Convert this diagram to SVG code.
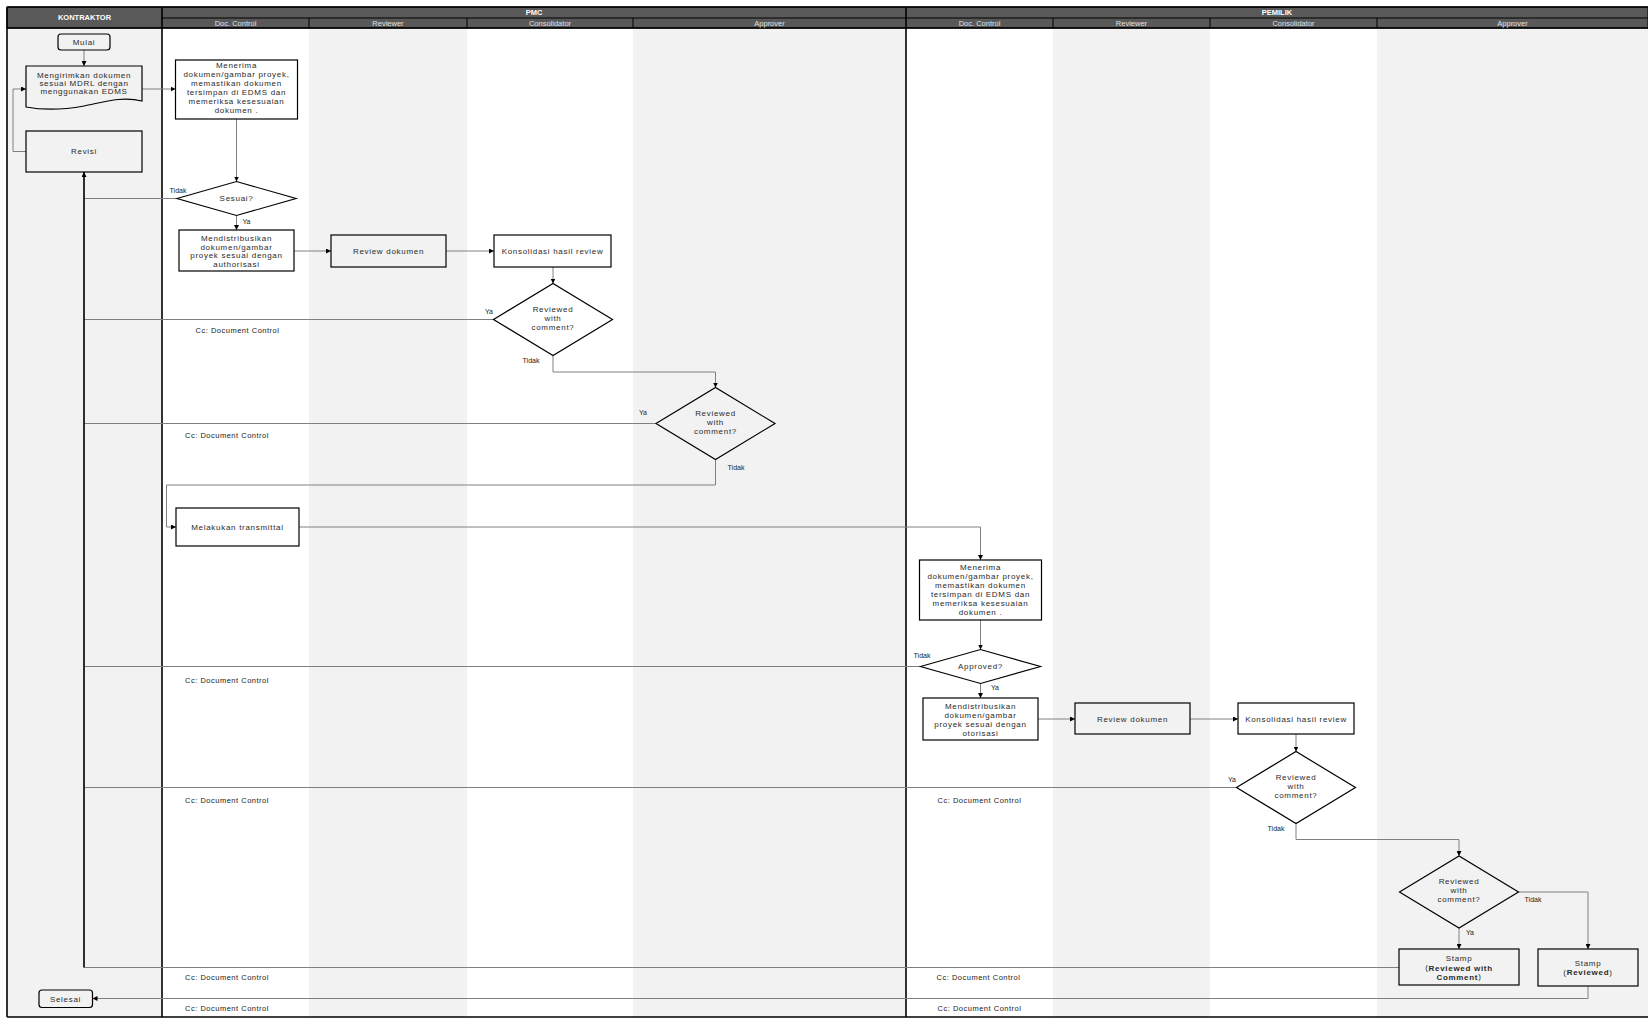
<svg xmlns="http://www.w3.org/2000/svg" width="1648" height="1019" viewBox="0 0 1648 1019">
<style>
.t{font-family:"Liberation Sans",Arial,sans-serif;font-size:8px;letter-spacing:0.7px;fill:#2a2a2a;text-anchor:middle;dominant-baseline:central}
.h1{font-family:"Liberation Sans",Arial,sans-serif;font-size:7.5px;font-weight:bold;fill:#fff;text-anchor:middle;dominant-baseline:central}
.h2{font-family:"Liberation Sans",Arial,sans-serif;font-size:7.5px;fill:#e0e0e0;text-anchor:middle;dominant-baseline:central}
.lb{font-family:"Liberation Sans",Arial,sans-serif;font-size:7px;fill:#222;text-anchor:middle;dominant-baseline:central}
.cc{font-family:"Liberation Sans",Arial,sans-serif;font-size:7.5px;letter-spacing:0.5px;fill:#222;text-anchor:middle;dominant-baseline:central}
.b{font-weight:bold}
.box{fill:none;stroke:#000;stroke-width:1.2}
.c{fill:none;stroke:#808080;stroke-width:1}
.lane{fill:#f2f2f2}
.hd{fill:#595959;stroke:#000;stroke-width:1}
</style>
<defs>
<marker id="arr" viewBox="0 0 6 6" refX="6" refY="3" markerWidth="5" markerHeight="5" orient="auto" markerUnits="userSpaceOnUse"><path d="M0,0 L6,3 L0,6 Z" fill="#000"/></marker>
</defs>
<rect x="0" y="0" width="1648" height="1019" fill="#fff"/>
<g id="lanes">
<rect class="lane" x="7" y="28" width="155" height="989"/>
<rect class="lane" x="309" y="28" width="158" height="989"/>
<rect class="lane" x="633" y="28" width="273" height="989"/>
<rect class="lane" x="1053" y="28" width="157" height="989"/>
<rect class="lane" x="1377" y="28" width="271" height="989"/>
<rect class="hd" x="7" y="7" width="1641" height="21"/>
<line x1="162" y1="18" x2="1648" y2="18" stroke="#000" stroke-width="1"/>
<g stroke="#000" stroke-width="1">
<line x1="309" y1="18" x2="309" y2="28"/><line x1="467" y1="18" x2="467" y2="28"/><line x1="633" y1="18" x2="633" y2="28"/>
<line x1="1053" y1="18" x2="1053" y2="28"/><line x1="1210" y1="18" x2="1210" y2="28"/><line x1="1377" y1="18" x2="1377" y2="28"/>
</g>
<g stroke="#000" stroke-width="1.6">
<line x1="7" y1="7" x2="7" y2="1017"/><line x1="162" y1="7" x2="162" y2="1017"/><line x1="906" y1="7" x2="906" y2="1017"/>
<line x1="7" y1="1017" x2="1648" y2="1017"/><line x1="7" y1="7" x2="1648" y2="7"/><line x1="7" y1="28" x2="1648" y2="28"/>
</g>
<text class="h1" x="84.5" y="17.5">KONTRAKTOR</text>
<text class="h1" x="534" y="12.5">PMC</text>
<text class="h1" x="1277" y="12.5">PEMILIK</text>
<text class="h2" x="235.5" y="23">Doc. Control</text>
<text class="h2" x="388" y="23">Reviewer</text>
<text class="h2" x="550" y="23">Consolidator</text>
<text class="h2" x="769.5" y="23">Approver</text>
<text class="h2" x="979.5" y="23">Doc. Control</text>
<text class="h2" x="1131.5" y="23">Reviewer</text>
<text class="h2" x="1293.5" y="23">Consolidator</text>
<text class="h2" x="1512.5" y="23">Approver</text>
</g>
<g id="connectors">
<path class="c" d="M84,50 V66" marker-end="url(#arr)"/>
<path class="c" d="M26,151.5 H13 V89 H26" marker-end="url(#arr)"/>
<path class="c" d="M142,89 H175.5" marker-end="url(#arr)"/>
<path class="c" d="M236.5,119 V181.5" marker-end="url(#arr)"/>
<path class="c" d="M177,198.5 H84"/>
<path class="c" d="M236.5,215.5 V230" marker-end="url(#arr)"/>
<path class="c" d="M294,251 H331" marker-end="url(#arr)"/>
<path class="c" d="M446,251 H494" marker-end="url(#arr)"/>
<path class="c" d="M553,267 V283.5" marker-end="url(#arr)"/>
<path class="c" d="M493.5,319.5 H84"/>
<path class="c" d="M553,355.5 V372 H715.5 V387.5" marker-end="url(#arr)"/>
<path class="c" d="M656,423.5 H84"/>
<path class="c" d="M715.5,459.5 V485 H166.5 V527 H176" marker-end="url(#arr)"/>
<path class="c" d="M299,527 H980.5 V560" marker-end="url(#arr)"/>
<path class="c" d="M980.5,620 V649.5" marker-end="url(#arr)"/>
<path class="c" d="M920.5,666.5 H84"/>
<path class="c" d="M980.5,683.5 V698" marker-end="url(#arr)"/>
<path class="c" d="M1038,719 H1075" marker-end="url(#arr)"/>
<path class="c" d="M1190,719 H1238" marker-end="url(#arr)"/>
<path class="c" d="M1296,734 V751.5" marker-end="url(#arr)"/>
<path class="c" d="M1236.5,787.5 H84"/>
<path class="c" d="M1296,823.5 V839.5 H1459 V856" marker-end="url(#arr)"/>
<path class="c" d="M1459,928 V949" marker-end="url(#arr)"/>
<path class="c" d="M1518.5,892 H1588 V949" marker-end="url(#arr)"/>
<path class="c" d="M1399,967.5 H84"/>
<path d="M84,967.5 V172" fill="none" stroke="#1a1a1a" stroke-width="1.8" marker-end="url(#arr)"/>
<path class="c" d="M1588,986 V998.5 H92.5" marker-end="url(#arr)"/>
<text class="lb" x="178" y="190.5">Tidak</text>
<text class="lb" x="246.5" y="221">Ya</text>
<text class="lb" x="489" y="311">Ya</text>
<text class="lb" x="531" y="360">Tidak</text>
<text class="lb" x="643" y="412">Ya</text>
<text class="lb" x="736" y="467.5">Tidak</text>
<text class="lb" x="922" y="655">Tidak</text>
<text class="lb" x="995" y="687">Ya</text>
<text class="lb" x="1232" y="779.5">Ya</text>
<text class="lb" x="1276" y="828">Tidak</text>
<text class="lb" x="1533" y="899">Tidak</text>
<text class="lb" x="1470" y="932">Ya</text>
<text class="cc" x="237.5" y="330">Cc: Document Control</text>
<text class="cc" x="227" y="435">Cc: Document Control</text>
<text class="cc" x="227" y="680">Cc: Document Control</text>
<text class="cc" x="227" y="800">Cc: Document Control</text>
<text class="cc" x="979.5" y="800">Cc: Document Control</text>
<text class="cc" x="227" y="977.5">Cc: Document Control</text>
<text class="cc" x="978.5" y="977.5">Cc: Document Control</text>
<text class="cc" x="227" y="1008">Cc: Document Control</text>
<text class="cc" x="979.5" y="1008">Cc: Document Control</text>
</g>
<g id="n-mulai"><rect class="box" x="58" y="34" width="52" height="16" rx="3"/><text class="t" x="84" y="42">Mulai</text></g>
<g id="n-kirim"><path class="box" d="M26,66 H142 V101 C122,96 104,102 84,106 C62,110 42,110 26,107 Z"/>
<text class="t" x="84" y="75">Mengirimkan dokumen</text><text class="t" x="84" y="83">sesuai MDRL dengan</text><text class="t" x="84" y="91">menggunakan EDMS</text></g>
<g id="n-revisi"><rect class="box" x="26" y="131" width="116" height="41"/><text class="t" x="84" y="151.5">Revisi</text></g>
<g id="n-terima-pmc"><rect class="box" x="175.5" y="60" width="122" height="59"/>
<text class="t" x="236.5" y="65.5">Menerima</text><text class="t" x="236.5" y="74.5">dokumen/gambar proyek,</text><text class="t" x="236.5" y="83.5">memastikan dokumen</text><text class="t" x="236.5" y="92.5">tersimpan di EDMS dan</text><text class="t" x="236.5" y="101.5">memeriksa kesesuaian</text><text class="t" x="236.5" y="110.5">dokumen .</text></g>
<g id="n-sesuai"><path class="box" d="M177,198.5 L236.5,181.5 L296,198.5 L236.5,215.5 Z"/><text class="t" x="236.5" y="198.5">Sesuai?</text></g>
<g id="n-distribusi-pmc"><rect class="box" x="179" y="230" width="115" height="41"/>
<text class="t" x="236.5" y="238.5">Mendistribusikan</text><text class="t" x="236.5" y="247">dokumen/gambar</text><text class="t" x="236.5" y="255.5">proyek sesuai dengan</text><text class="t" x="236.5" y="264">authorisasi</text></g>
<g id="n-review-pmc"><rect class="box" x="331" y="235" width="115" height="32"/><text class="t" x="388.5" y="251">Review dokumen</text></g>
<g id="n-konsol-pmc"><rect class="box" x="494" y="235" width="117" height="32"/><text class="t" x="552.5" y="251">Konsolidasi hasil review</text></g>
<g id="n-rwc1"><path class="box" d="M493.5,319.5 L553,283.5 L612.5,319.5 L553,355.5 Z"/>
<text class="t" x="553" y="309.5">Reviewed</text><text class="t" x="553" y="318.5">with</text><text class="t" x="553" y="327.5">comment?</text></g>
<g id="n-rwc2"><path class="box" d="M656,423.5 L715.5,387.5 L775,423.5 L715.5,459.5 Z"/>
<text class="t" x="715.5" y="413">Reviewed</text><text class="t" x="715.5" y="422">with</text><text class="t" x="715.5" y="431">comment?</text></g>
<g id="n-transmittal"><rect class="box" x="176" y="508" width="123" height="38"/><text class="t" x="237.5" y="527">Melakukan transmittal</text></g>
<g id="n-terima-pemilik"><rect class="box" x="919.5" y="560" width="122" height="60"/>
<text class="t" x="980.5" y="567">Menerima</text><text class="t" x="980.5" y="576">dokumen/gambar proyek,</text><text class="t" x="980.5" y="585">memastikan dokumen</text><text class="t" x="980.5" y="594">tersimpan di EDMS dan</text><text class="t" x="980.5" y="603">memeriksa kesesuaian</text><text class="t" x="980.5" y="612">dokumen .</text></g>
<g id="n-approved"><path class="box" d="M920.5,666.5 L980.5,649.5 L1040.5,666.5 L980.5,683.5 Z"/><text class="t" x="980.5" y="666.5">Approved?</text></g>
<g id="n-distribusi-pemilik"><rect class="box" x="923" y="698" width="115" height="42"/>
<text class="t" x="980.5" y="706">Mendistribusikan</text><text class="t" x="980.5" y="715">dokumen/gambar</text><text class="t" x="980.5" y="724">proyek sesuai dengan</text><text class="t" x="980.5" y="733">otorisasi</text></g>
<g id="n-review-pemilik"><rect class="box" x="1075" y="703" width="115" height="31"/><text class="t" x="1132.5" y="719">Review dokumen</text></g>
<g id="n-konsol-pemilik"><rect class="box" x="1238" y="703" width="116" height="31"/><text class="t" x="1296" y="719">Konsolidasi hasil review</text></g>
<g id="n-rwc3"><path class="box" d="M1236.5,787.5 L1296,751.5 L1355.5,787.5 L1296,823.5 Z"/>
<text class="t" x="1296" y="777.5">Reviewed</text><text class="t" x="1296" y="786.5">with</text><text class="t" x="1296" y="795.5">comment?</text></g>
<g id="n-rwc4"><path class="box" d="M1399.5,892 L1459,856 L1518.5,892 L1459,928 Z"/>
<text class="t" x="1459" y="881.5">Reviewed</text><text class="t" x="1459" y="890.5">with</text><text class="t" x="1459" y="899.5">comment?</text></g>
<g id="n-stamp-rwc"><rect class="box" x="1399" y="949" width="120" height="36"/>
<text class="t" x="1459" y="958.5">Stamp</text><text class="t" x="1459" y="967.5">(<tspan class="b">Reviewed with</tspan></text><text class="t" x="1459" y="976.5"><tspan class="b">Comment</tspan>)</text></g>
<g id="n-stamp-r"><rect class="box" x="1538" y="949" width="100" height="37"/>
<text class="t" x="1588" y="963">Stamp</text><text class="t" x="1588" y="972">(<tspan class="b">Reviewed</tspan>)</text></g>
<g id="n-selesai"><rect class="box" x="39" y="990" width="53.5" height="17.5" rx="3"/><text class="t" x="65.5" y="999">Selesai</text></g>
</svg>
